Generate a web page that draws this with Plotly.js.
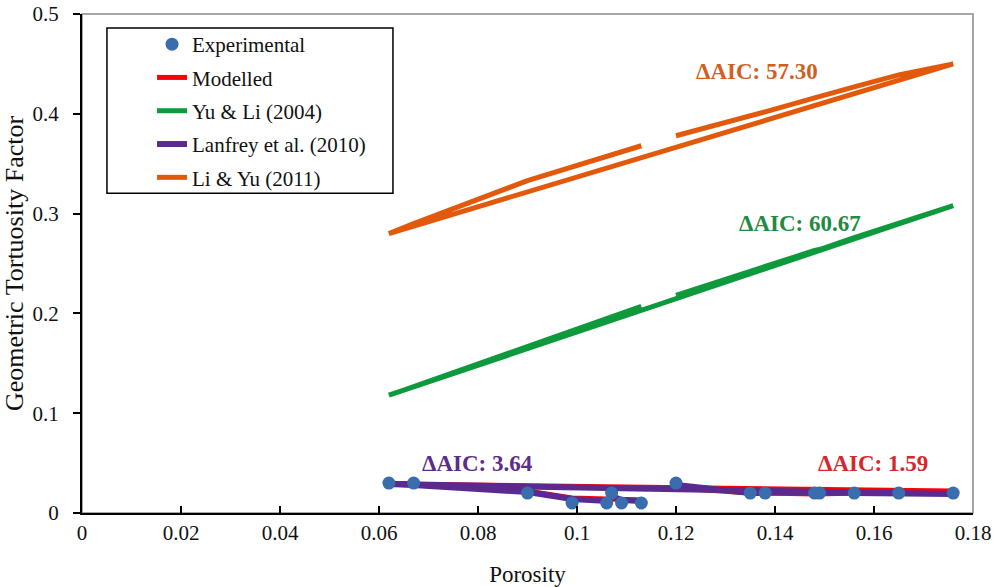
<!DOCTYPE html>
<html>
<head>
<meta charset="utf-8">
<script src="https://cdn.plot.ly/plotly-3.0.1.min.js"></script>
<style>html,body{margin:0;padding:0;background:#fff;}#chart{width:994px;height:587px;}</style>
</head>
<body>
<div id="chart"></div>
<script>
// Samples in data (spreadsheet) order
const porosity     = [0.113, 0.109, 0.107, 0.106, 0.099, 0.090, 0.067, 0.062, 0.176, 0.165, 0.156, 0.149, 0.148, 0.138, 0.135, 0.120];
const experimental = [0.010, 0.010, 0.020, 0.010, 0.010, 0.020, 0.030, 0.030, 0.020, 0.020, 0.020, 0.020, 0.020, 0.020, 0.020, 0.030];
const modelled     = [0.013, 0.014, 0.015, 0.014, 0.015, 0.022, 0.028, 0.029, 0.022, 0.021, 0.020, 0.019, 0.019, 0.020, 0.020, 0.025];
const yuLi2004     = [0.207, 0.200, 0.197, 0.195, 0.183, 0.167, 0.127, 0.118, 0.308, 0.291, 0.276, 0.264, 0.263, 0.247, 0.242, 0.218];
const lanfrey2010  = [0.012, 0.013, 0.017, 0.012, 0.014, 0.021, 0.028, 0.029, 0.019, 0.019, 0.020, 0.021, 0.021, 0.020, 0.020, 0.028];
const liYu2011     = [0.368, 0.362, 0.359, 0.357, 0.346, 0.333, 0.290, 0.280, 0.450, 0.439, 0.427, 0.418, 0.416, 0.402, 0.398, 0.378];

const xTicks = [0, 0.02, 0.04, 0.06, 0.08, 0.1, 0.12, 0.14, 0.16, 0.18];
const xTickText = ['0', '0.02', '0.04', '0.06', '0.08', '0.1', '0.12', '0.14', '0.16', '0.18'];
const yTicks = [0, 0.1, 0.2, 0.3, 0.4, 0.5];
const yTickText = ['0', '0.1', '0.2', '0.3', '0.4', '0.5'];

const labels = [
  {text: 'ΔAIC: 57.30', x: 0.1364, y: 0.442, color: '#D0601E'},
  {text: 'ΔAIC: 60.67', x: 0.1450, y: 0.290, color: '#1E8C42'},
  {text: 'ΔAIC: 3.64',  x: 0.0798, y: 0.050, color: '#5B2C8A'},
  {text: 'ΔAIC: 1.59',  x: 0.1598, y: 0.050, color: '#D8262A'}
];

const SERIF = '"Liberation Serif", "Times New Roman", serif';

const traces = [
  {x: porosity, y: modelled, name: 'Modelled', mode: 'lines', type: 'scatter',
   line: {color: '#FF0000', width: 5}, legendrank: 2, legendgroup: 'b'},
  {x: porosity, y: lanfrey2010, name: 'Lanfrey et al. (2010)', mode: 'lines', type: 'scatter',
   line: {color: '#5A2A90', width: 6}, legendrank: 4, legendgroup: 'd'},
  {x: porosity, y: yuLi2004, name: 'Yu & Li (2004)', mode: 'lines', type: 'scatter',
   line: {color: '#0E9A3C', width: 5}, legendrank: 3, legendgroup: 'c'},
  {x: porosity, y: liYu2011, name: 'Li & Yu (2011)', mode: 'lines', type: 'scatter',
   line: {color: '#E2590B', width: 5}, legendrank: 5, legendgroup: 'e'},
  {x: porosity, y: experimental, name: 'Experimental', mode: 'markers', type: 'scatter',
   marker: {color: '#3A6DAE', size: 13}, legendrank: 1, legendgroup: 'a'}
];

const layout = {
  width: 994, height: 587,
  margin: {l: 82, r: 21, t: 14, b: 74},
  paper_bgcolor: '#ffffff', plot_bgcolor: '#ffffff',
  font: {family: SERIF, size: 21, color: '#111'},
  showlegend: true,
  legend: {
    x: 0.0786, y: 0.98, xanchor: 'left', yanchor: 'top',
    bgcolor: 'rgba(0,0,0,0)', borderwidth: 0,
    font: {family: SERIF, size: 21, color: '#111'},
    traceorder: 'grouped', tracegroupgap: 3
  },
  xaxis: {
    range: [0, 0.18], tickvals: xTicks, ticktext: xTickText,
    showline: true, linecolor: '#000', linewidth: 2,
    ticks: 'inside', ticklen: 7, tickwidth: 2, tickcolor: '#000',
    ticklabelstandoff: 0,
    showgrid: false, zeroline: false,
    tickfont: {family: SERIF, size: 21, color: '#111'},
    title: {text: 'Porosity', font: {family: SERIF, size: 23, color: '#111'}, standoff: 22}
  },
  yaxis: {
    range: [0, 0.5], tickvals: yTicks, ticktext: yTickText,
    showline: true, linecolor: '#000', linewidth: 2,
    ticks: 'outside', ticklen: 7, tickwidth: 2, tickcolor: '#000',
    ticklabelstandoff: 10,
    showgrid: false, zeroline: false,
    tickfont: {family: SERIF, size: 21, color: '#111'},
    title: {text: 'Geometric Tortuosity Factor', font: {family: SERIF, size: 26, color: '#111'}, standoff: 8}
  },
  shapes: [
    {type: 'rect', xref: 'paper', yref: 'paper', x0: 0, x1: 1, y0: 0, y1: 1,
     line: {color: '#8a8a8a', width: 1.5}, layer: 'below'},
    {type: 'rect', xref: 'paper', yref: 'paper', x0: 0.028, x1: 0.349, y0: 0.641, y1: 0.972,
     line: {color: '#000', width: 1.5}, layer: 'above'}
  ],
  annotations: labels.map(l => ({
    x: l.x, y: l.y, xref: 'x', yref: 'y', text: '<b>' + l.text + '</b>',
    showarrow: false, font: {family: SERIF, size: 23, color: l.color}
  }))
};

Plotly.newPlot('chart', traces, layout, {displayModeBar: false, staticPlot: true});
</script>
</body>
</html>
